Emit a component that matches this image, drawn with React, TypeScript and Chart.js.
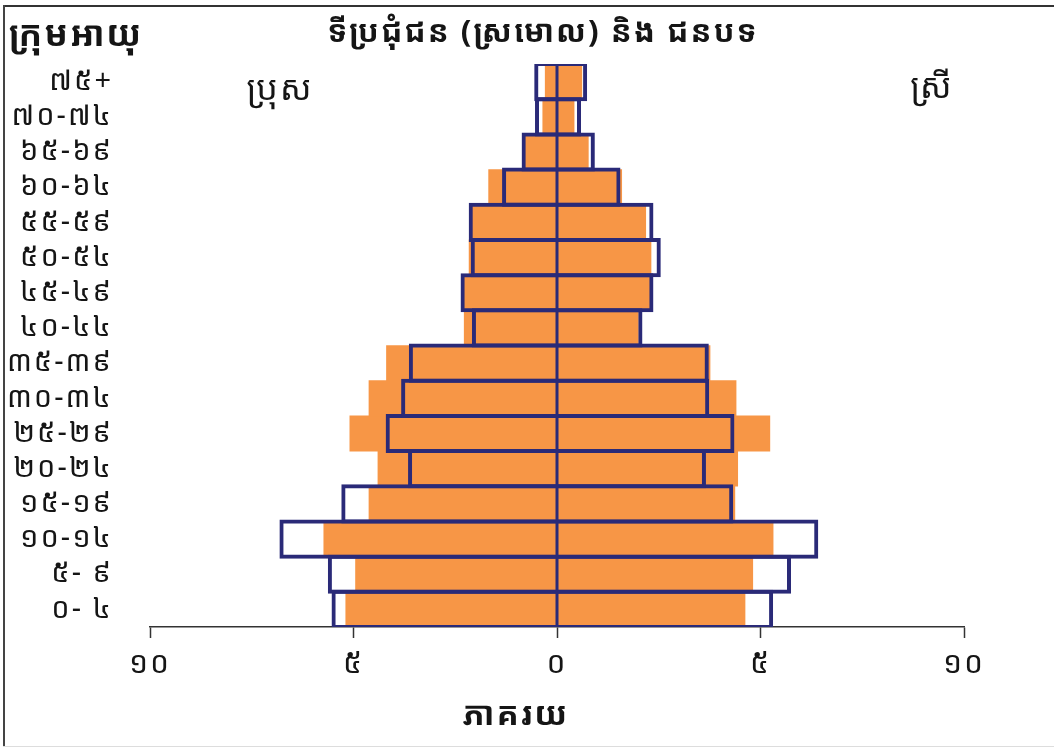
import React, { useEffect, useRef } from "react";
import { Chart, registerables } from "chart.js";

Chart.register(...registerables);

// Age groups from youngest (bottom) to oldest (top), Khmer numerals
const ageGroups = [
  "០- ៤", "៥- ៩", "១០-១៤", "១៥-១៩", "២០-២៤", "២៥-២៩", "៣០-៣៤", "៣៥-៣៩",
  "៤០-៤៤", "៤៥-៤៩", "៥០-៥៤", "៥៥-៥៩", "៦០-៦៤", "៦៥-៦៩", "៧០-៧៤", "៧៥+",
];

// Urban (shaded, orange) percentages
const urbanMale = [5.19, 4.95, 5.73, 4.62, 4.40, 5.09, 4.62, 4.19, 2.28, 2.28, 2.16, 2.10, 1.68, 0.80, 0.35, 0.29];
const urbanFemale = [4.62, 4.81, 5.31, 4.37, 4.44, 5.23, 4.40, 3.76, 2.00, 2.28, 2.31, 2.18, 1.59, 0.77, 0.42, 0.61];

// Rural (outlined, navy) percentages
const ruralMale = [5.54, 5.63, 6.82, 5.30, 3.66, 4.21, 3.83, 3.64, 2.09, 2.37, 2.12, 2.17, 1.35, 0.87, 0.54, 0.56];
const ruralFemale = [5.31, 5.75, 6.42, 4.33, 3.66, 4.36, 3.74, 3.73, 2.10, 2.37, 2.55, 2.37, 1.56, 0.93, 0.59, 0.74];

const xTickValues = [-10, -5, 0, 5, 10];

const titleText = "ទីប្រជុំជន (ស្រមោល) និង ជនបទ";
const yTitleText = "ក្រុមអាយុ";
const xTitleText = "ភាគរយ";
const maleText = "ប្រុស";
const femaleText = "ស្រី";

const KHMER_DIGITS = "០១២៣៤៥៦៧៨៩";
const toKhmer = (n: number) =>
  String(Math.abs(n)).replace(/\d/g, (d) => KHMER_DIGITS[Number(d)]);

const FONT = "'Khmer OS', 'Noto Sans Khmer', 'Khmer OS System', 'Noto Sans', sans-serif";
const ORANGE = "#F79646";
const NAVY = "#2A2A78";
const TEXT = "#151515";

const textPlugin = {
  id: "khmerTexts",
  beforeDraw(chart: any) {
    (chart.ctx as any).letterSpacing = "2px";
  },
  afterDraw(chart: any) {
    const { ctx } = chart;
    ctx.save();
    ctx.fillStyle = TEXT;
    ctx.textBaseline = "middle";
    (ctx as any).letterSpacing = "2px";
    // title
    ctx.font = `bold 31px ${FONT}`;
    ctx.textAlign = "center";
    ctx.fillText(titleText, 543, 33);
    // y title
    ctx.font = `bold 35px ${FONT}`;
    ctx.textAlign = "left";
    ctx.fillText(yTitleText, 9, 36);
    // x title
    ctx.font = `bold 33px ${FONT}`;
    ctx.textAlign = "center";
    ctx.fillText(xTitleText, 516, 716);
    // male / female
    ctx.font = `34px ${FONT}`;
    ctx.fillText(maleText, 280, 90);
    ctx.fillText(femaleText, 932, 88);
    ctx.restore();
  },
  afterDatasetsDraw(chart: any) {
    const { ctx, chartArea, scales } = chart;
    const x0 = scales.x.getPixelForValue(0);
    ctx.save();
    ctx.strokeStyle = NAVY;
    ctx.lineWidth = 3;
    ctx.beginPath();
    ctx.moveTo(x0, chartArea.top);
    ctx.lineTo(x0, chartArea.bottom);
    ctx.stroke();
    ctx.restore();
  },
};

export default function App() {
  const canvasRef = useRef<HTMLCanvasElement | null>(null);

  useEffect(() => {
    if (!canvasRef.current) return;
    const catH = (627 - 64) / ageGroups.length;
    const outlinePct = (catH + 4) / catH;
    const chart = new Chart(canvasRef.current, {
      type: "bar",
      data: {
        labels: ageGroups,
        datasets: [
          {
            label: "ជនបទ ប្រុស",
            data: ruralMale.map((v) => -v),
            backgroundColor: "rgba(0,0,0,0)",
            borderColor: NAVY,
            borderWidth: 4,
            borderSkipped: "start",
            barPercentage: outlinePct,
            categoryPercentage: 1,
            grouped: false,
            order: 0,
          },
          {
            label: "ជនបទ ស្រី",
            data: ruralFemale,
            backgroundColor: "rgba(0,0,0,0)",
            borderColor: NAVY,
            borderWidth: 4,
            borderSkipped: "start",
            barPercentage: outlinePct,
            categoryPercentage: 1,
            grouped: false,
            order: 0,
          },
          {
            label: "ទីប្រជុំជន ប្រុស",
            data: urbanMale.map((v) => -v),
            backgroundColor: ORANGE,
            borderWidth: 0,
            barPercentage: 1,
            categoryPercentage: 1,
            grouped: false,
            order: 1,
          },
          {
            label: "ទីប្រជុំជន ស្រី",
            data: urbanFemale,
            backgroundColor: ORANGE,
            borderWidth: 0,
            barPercentage: 1,
            categoryPercentage: 1,
            grouped: false,
            order: 1,
          },
        ],
      },
      options: {
        responsive: false,
        animation: false,
        indexAxis: "y",
        layout: { padding: { top: 64, right: 90, left: 0, bottom: 0 } },
        plugins: {
          legend: { display: false },
          tooltip: { enabled: false },
          title: { display: false },
        },
        scales: {
          x: {
            type: "linear",
            min: -10,
            max: 10,
            afterBuildTicks: (scale: any) => {
              scale.ticks = xTickValues.map((v) => ({ value: v }));
            },
            afterFit: (scale: any) => {
              scale.height = 749 - 627;
            },
            border: { display: true, color: "#333", width: 1.5 },
            grid: {
              drawOnChartArea: false,
              drawTicks: true,
              tickLength: 11,
              tickColor: "#333",
              tickWidth: 1.5,
            },
            ticks: {
              callback: (v: any) => toKhmer(Number(v)),
              font: { family: FONT, size: 30 },
              color: TEXT,
              padding: 8,
              maxRotation: 0,
              autoSkip: false,
            },
          },
          y: {
            type: "category",
            reverse: true,
            offset: true,
            afterFit: (scale: any) => {
              scale.width = 150;
            },
            border: { display: false },
            grid: { display: false, drawTicks: false },
            ticks: {
              font: { family: FONT, size: 29 },
              color: TEXT,
              padding: 37,
              autoSkip: false,
            },
          },
        },
      },
      plugins: [textPlugin],
    } as any);
    return () => chart.destroy();
  }, []);

  return (
    <div
      style={{
        position: "absolute",
        left: 0,
        top: 0,
        width: 1054,
        height: 749,
        background: "#fff",
        overflow: "hidden",
      }}
    >
      <canvas ref={canvasRef} width={1054} height={749} style={{ position: "absolute", left: 0, top: 0 }} />
      <div style={{ position: "absolute", left: 3, top: 5, width: 1051, height: 2, background: "#333" }} />
      <div style={{ position: "absolute", left: 3, top: 5, width: 2, height: 742, background: "#444" }} />
      <div style={{ position: "absolute", left: 3, top: 746, width: 1051, height: 1, background: "#ddd" }} />
    </div>
  );
}
